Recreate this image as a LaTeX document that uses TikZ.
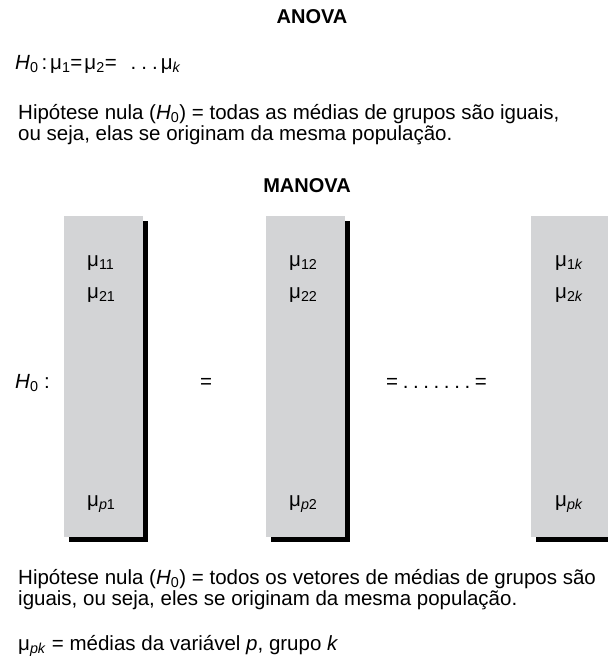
\documentclass[tikz,border=0pt]{standalone}
\usepackage{fontspec}
\setmainfont{Liberation Sans}
\definecolor{boxgray}{RGB}{211,212,214}
\newcommand{\ssub}[1]{\textsubscript{#1}}
\newcommand{\dotgap}{\kern4.6pt}
\begin{document}
\begin{tikzpicture}[x=1pt,y=-1pt,
  txt/.style={anchor=base west,inner sep=0pt,font=\fontsize{20.5}{22}\selectfont},
  ttl/.style={anchor=base,inner sep=0pt,font=\fontsize{20}{22}\selectfont\bfseries},
  shadowbox/.style={fill=black},
  vecbox/.style={fill=boxgray}]
\useasboundingbox (0,0) rectangle (608,665);
\fill[white] (0,0) rectangle (608,665);
% titles
\node[ttl] (anova) at (312,23) {ANOVA};
\node[txt] (h0a) at (15,69) {\textit{H}\ssub{0}\kern3pt:\kern3ptμ\ssub{1}=\kern2ptμ\ssub{2}=\kern14pt.\kern5pt.\kern5pt.\kern3ptμ\ssub{\textit{k}}};
\node[txt] (hip1) at (18,119) {Hipótese nula (\textit{H}\ssub{0}) = todas as médias de grupos são iguais,};
\node[txt] (hip2) at (18,140) {ou seja, elas se originam da mesma população.};
\node[ttl] (manova) at (307,192) {MANOVA};
% boxes
\foreach \x/\n in {64/b1,266/b2,531/b3}{
  \fill[shadowbox] (\x+5,221) rectangle (\x+84,542);
  \fill[vecbox] (\x,216) rectangle (\x+79,537);
}
\node[txt] (m11) at (87,266) {μ\ssub{11}};
\node[txt] (m21) at (87,298) {μ\ssub{21}};
\node[txt] (mp1) at (87,506) {μ\ssub{\textit{p}1}};
\node[txt] (m12) at (289,266) {μ\ssub{12}};
\node[txt] (m22) at (289,298) {μ\ssub{22}};
\node[txt] (mp2) at (289,506) {μ\ssub{\textit{p}2}};
\node[txt] (m1k) at (555,266) {μ\ssub{1\textit{k}}};
\node[txt] (m2k) at (555,298) {μ\ssub{2\textit{k}}};
\node[txt] (mpk) at (555,506) {μ\ssub{\textit{pk}}};
\node[txt] (h0b) at (15,388) {\textit{H}\ssub{0} :};
\node[txt] (eq1) at (200,388) {=};
\node[txt] (eq2) at (386,388) {=\dotgap.\dotgap.\dotgap.\dotgap.\dotgap.\dotgap.\dotgap.\dotgap=};
% bottom text
\node[txt] (hip3) at (18,584) {Hipótese nula (\textit{H}\ssub{0}) = todos os vetores de médias de grupos são};
\node[txt] (hip4) at (18,605) {iguais, ou seja, eles se originam da mesma população.};
\node[txt] (mudef) at (18,650) {μ\ssub{\textit{pk}} = médias da variável \textit{p}, grupo \textit{k}};
\end{tikzpicture}
\end{document}
